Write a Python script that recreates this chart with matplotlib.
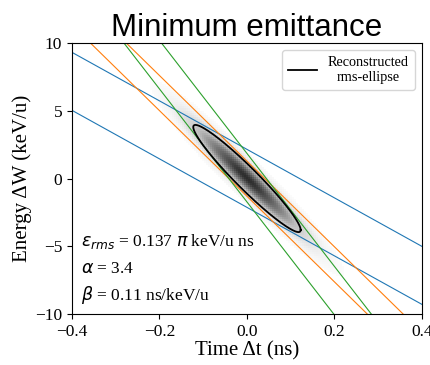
import numpy as np
import matplotlib
matplotlib.use("Agg")
import matplotlib.pyplot as plt

# Twiss parameters / emittance (from annotation)
eps_rms = 0.137
alpha = 3.4
beta = 0.11

# Projection lines: W = slope * t + intercept
blue_slopes = [-17.9, -17.9]
blue_intercepts = [2.15, -2.13]
orange_slopes = [-31.6, -31.6]
orange_intercepts = [1.28, -1.31]
green_slopes = [-41.7, -41.7]
green_intercepts = [1.85, -1.73]

x_ticks = [-0.4, -0.2, 0.0, 0.2, 0.4]
y_ticks = [-10, -5, 0, 5, 10]

plt.rcParams['font.family'] = ['Liberation Serif', 'DejaVu Serif']
plt.rcParams['mathtext.fontset'] = 'dejavusans'

fig = plt.figure(figsize=(4.31, 3.65), dpi=100)
ax = fig.add_axes([0.167, 0.1397, 0.812, 0.7425])

# particle density image (smooth profile built on the rms ellipse)
gamma = (1 + alpha**2) / beta
tt = np.linspace(-0.4, 0.4, 175)
ww = np.linspace(-10, 10, 135)
T, W = np.meshgrid(tt, ww)
q = (gamma * T**2 + 2 * alpha * T * W + beta * W**2) / eps_rms
r = np.sqrt(q)
dens = 0.85 * np.exp(-(r / 1.0) ** 2)
dens[dens < 0.03] = 0
ax.imshow(dens, extent=[-0.4, 0.4, -10, 10], origin='lower', aspect='auto',
          cmap='Greys', vmin=0, vmax=1.0, interpolation='nearest', zorder=0)

tline = np.array([-0.4, 0.4])
for s, c in zip(blue_slopes, blue_intercepts):
    ax.plot(tline, s * tline + c, color='tab:blue', lw=0.8)
for s, c in zip(orange_slopes, orange_intercepts):
    ax.plot(tline, s * tline + c, color='tab:orange', lw=0.8)
for s, c in zip(green_slopes, green_intercepts):
    ax.plot(tline, s * tline + c, color='tab:green', lw=0.8)

# rms ellipse
phi = np.linspace(0, 2 * np.pi, 400)
et = np.sqrt(eps_rms * beta) * np.cos(phi)
ew = -np.sqrt(eps_rms / beta) * (alpha * np.cos(phi) - np.sin(phi))
ax.plot(et, ew, color='black', lw=1.3, label='Reconstructed\nrms-ellipse')

ax.set_xlim(-0.4, 0.4)
ax.set_ylim(-10, 10)
ax.set_xticks(x_ticks)
ax.set_yticks(y_ticks)
ax.tick_params(labelsize=12.5)
ax.set_xlabel('Time Δt (ns)', fontsize=15, labelpad=1)
ax.set_ylabel('Energy ΔW (keV/u)', fontsize=15, labelpad=2)
ax.set_title('Minimum emittance', fontsize=22.5, family=['Liberation Sans'], pad=3)

leg = ax.legend(loc='upper right', fontsize=10.3)
for t in leg.get_texts():
    t.set_multialignment('center')

ax.text(0.025, 0.25, r'$\varepsilon_{rms}$ = 0.137 $\pi$ keV/u ns', transform=ax.transAxes, fontsize=12.5, va='baseline')
ax.text(0.025, 0.151, r'$\alpha$ = 3.4', transform=ax.transAxes, fontsize=12.5, va='baseline')
ax.text(0.025, 0.052, r'$\beta$ = 0.11 ns/keV/u', transform=ax.transAxes, fontsize=12.5, va='baseline')

fig.savefig('out.png', dpi=100)
